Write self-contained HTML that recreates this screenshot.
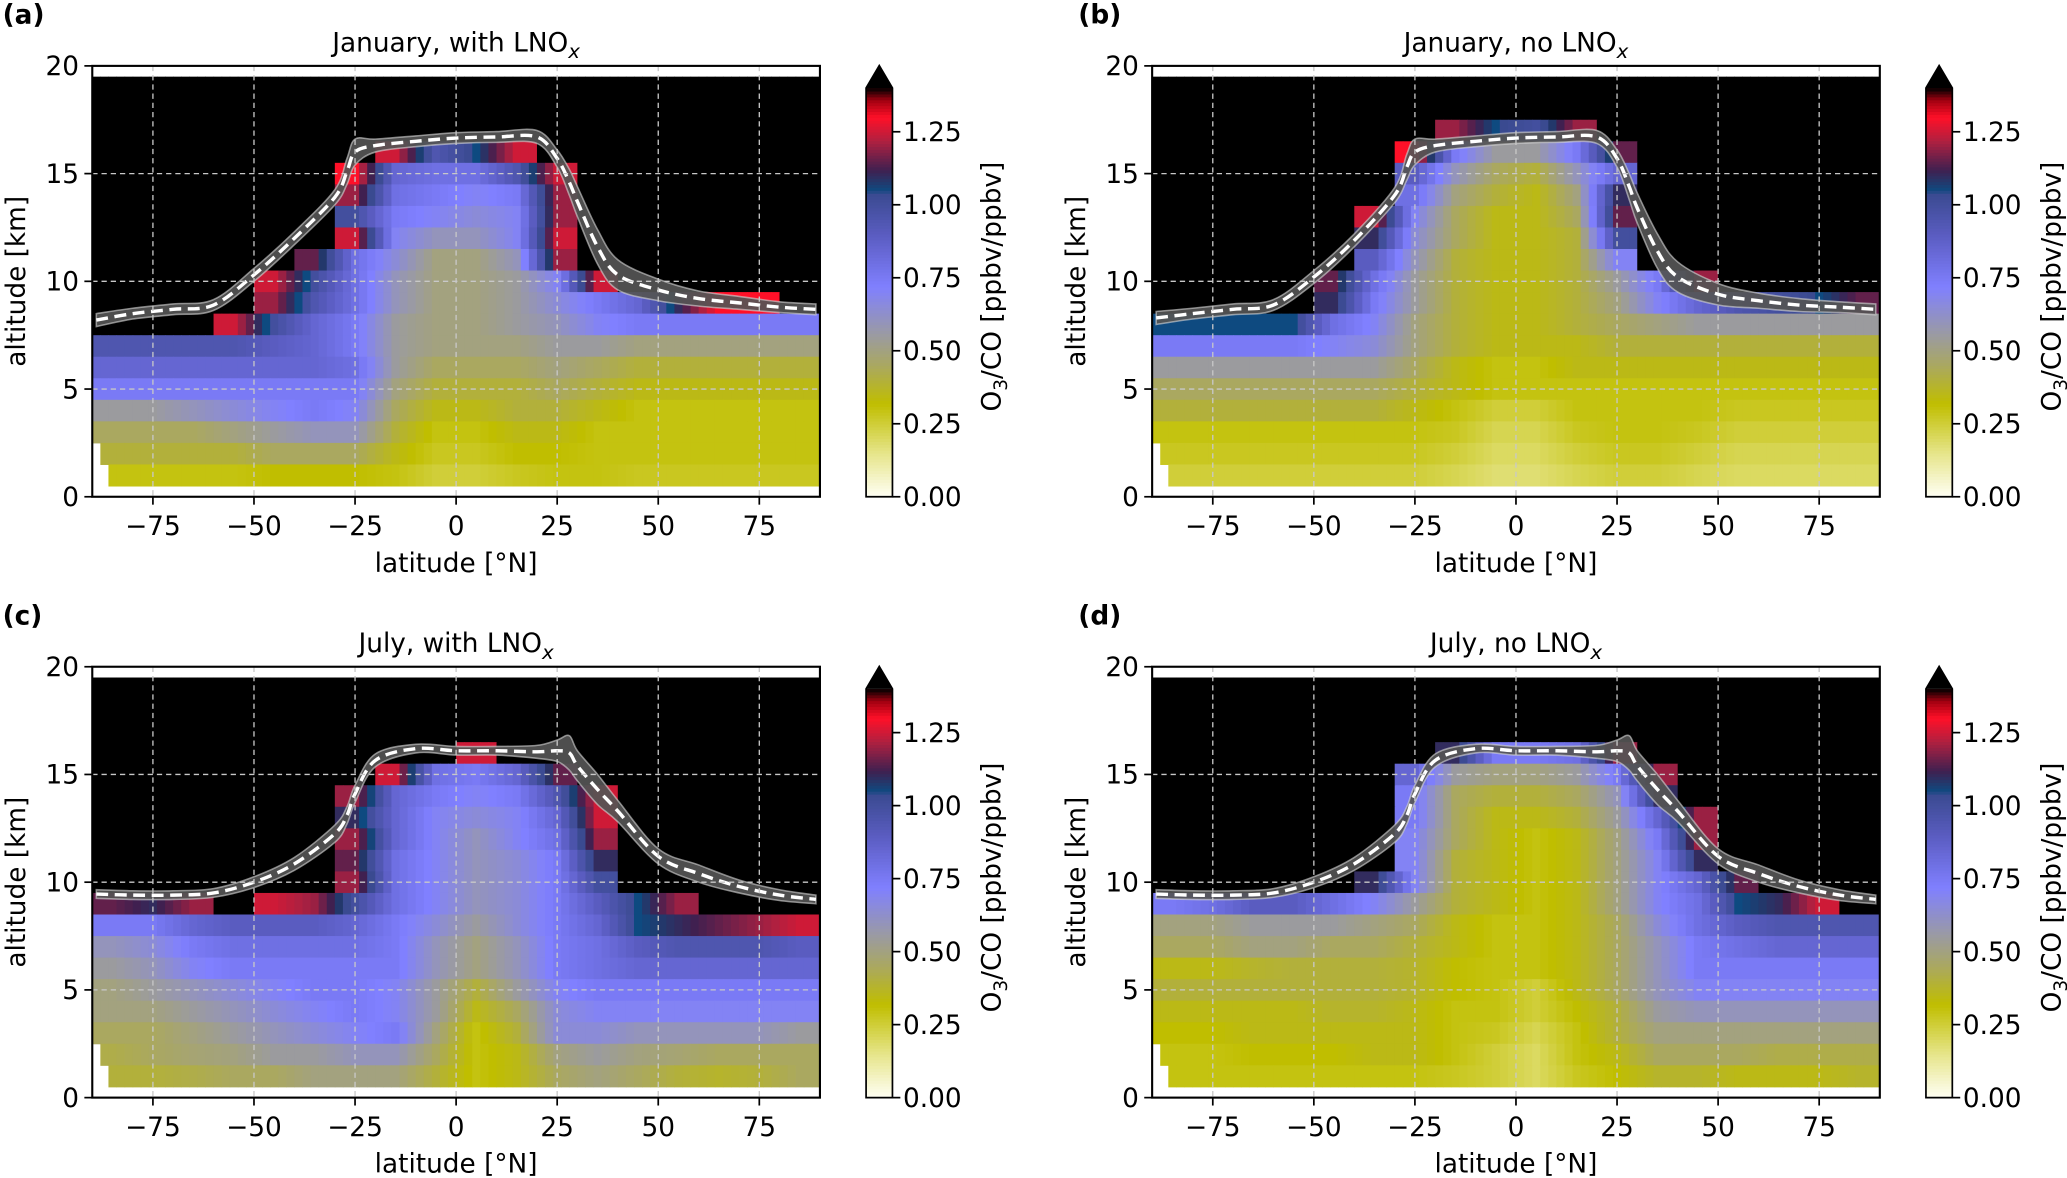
<!DOCTYPE html>
<html>
<head>
<meta charset="utf-8">
<style>
html,body{margin:0;padding:0;background:#fff;}
svg{display:block;font-family:"DejaVu Sans","Liberation Sans",sans-serif;}
</style>
</head>
<body>
<svg id="fig" width="2067" height="1178" viewBox="0 0 1568 894" preserveAspectRatio="none" xmlns="http://www.w3.org/2000/svg"></svg>
<script>
// ---------- data ----------
const cellLats = [-85,-75,-65,-55,-45,-35,-25,-15,-5,5,15,25,35,45,55,65,75,85];
const cellAlts = [19,18,17,16,15,14,13,12,11,10,9,8,7,6,5,4,3,2,1];

const janWith = [
[2,2,2,2,2,2,2,2,2,2,2,2,2,2,2,2,2,2],
[2,2,2,2,2,2,2,2,2,2,2,2,2,2,2,2,2,2],
[2,2,2,2,2,2,2,2,2,2,2,2,2,2,2,2,2,2],
[2,2,2,2,2,2,2,1.25,0.95,1.05,1.25,2,2,2,2,2,2,2],
[2,2,2,2,2,2,1.3,0.85,0.8,0.8,0.95,1.25,2,2,2,2,2,2],
[2,2,2,2,2,2,1.2,0.8,0.75,0.7,0.75,1.2,2,2,2,2,2,2],
[2,2,2,2,2,2,1.0,0.75,0.7,0.65,0.7,1.2,2,2,2,2,2,2],
[2,2,2,2,2,2,1.25,0.7,0.6,0.6,0.7,1.25,2,2,2,2,2,2],
[2,2,2,2,2,1.15,0.8,0.65,0.5,0.5,0.6,1.2,2,2,2,2,2,2],
[2,2,2,2,1.25,1.0,0.8,0.6,0.5,0.5,0.55,0.7,1.25,2,2,2,2,2],
[2,2,2,2,1.2,0.95,0.8,0.6,0.5,0.5,0.55,0.65,0.75,0.85,1.1,1.3,1.3,2],
[2,2,2,1.25,1.0,0.85,0.75,0.55,0.5,0.5,0.55,0.6,0.7,0.75,0.75,0.75,0.75,0.75],
[0.95,0.95,0.95,0.95,0.9,0.85,0.75,0.55,0.5,0.5,0.5,0.55,0.55,0.5,0.5,0.5,0.5,0.5],
[0.85,0.85,0.85,0.85,0.85,0.85,0.8,0.55,0.45,0.45,0.45,0.5,0.45,0.4,0.4,0.4,0.4,0.4],
[0.75,0.75,0.75,0.75,0.75,0.75,0.75,0.5,0.4,0.4,0.4,0.45,0.4,0.35,0.35,0.35,0.35,0.35],
[0.55,0.55,0.6,0.65,0.7,0.75,0.7,0.45,0.35,0.35,0.4,0.4,0.35,0.3,0.3,0.3,0.3,0.3],
[0.45,0.45,0.45,0.5,0.55,0.6,0.6,0.4,0.3,0.3,0.35,0.35,0.3,0.3,0.3,0.3,0.3,0.3],
[0.4,0.4,0.4,0.4,0.45,0.45,0.45,0.35,0.28,0.28,0.32,0.32,0.3,0.3,0.3,0.3,0.3,0.3],
[0.3,0.3,0.3,0.3,0.32,0.32,0.32,0.3,0.25,0.25,0.28,0.3,0.3,0.28,0.28,0.28,0.28,0.28]
];
const janNo = [
[2,2,2,2,2,2,2,2,2,2,2,2,2,2,2,2,2,2],
[2,2,2,2,2,2,2,2,2,2,2,2,2,2,2,2,2,2],
[2,2,2,2,2,2,2,1.2,1.05,1.0,1.2,2,2,2,2,2,2,2],
[2,2,2,2,2,2,1.3,0.75,0.55,0.55,0.75,1.15,2,2,2,2,2,2],
[2,2,2,2,2,2,0.9,0.6,0.45,0.4,0.6,0.85,2,2,2,2,2,2],
[2,2,2,2,2,2,0.8,0.5,0.4,0.35,0.5,1.1,2,2,2,2,2,2],
[2,2,2,2,2,1.25,0.7,0.45,0.35,0.35,0.45,1.15,2,2,2,2,2,2],
[2,2,2,2,2,1.1,0.65,0.45,0.35,0.35,0.4,1.0,2,2,2,2,2,2],
[2,2,2,2,2,0.9,0.6,0.4,0.35,0.35,0.4,0.7,2,2,2,2,2,2],
[2,2,2,2,1.15,0.8,0.55,0.4,0.35,0.35,0.4,0.55,0.75,1.2,2,2,2,2],
[2,2,2,2,1.1,0.75,0.55,0.4,0.35,0.35,0.4,0.5,0.7,0.85,0.95,1.0,1.05,1.15],
[1.05,1.05,1.05,1.05,0.8,0.7,0.5,0.4,0.35,0.35,0.4,0.45,0.5,0.55,0.55,0.55,0.55,0.55],
[0.75,0.75,0.75,0.75,0.7,0.65,0.5,0.4,0.35,0.35,0.35,0.4,0.4,0.4,0.4,0.4,0.4,0.4],
[0.55,0.55,0.55,0.55,0.55,0.55,0.45,0.35,0.3,0.3,0.35,0.35,0.35,0.35,0.35,0.35,0.35,0.35],
[0.45,0.45,0.45,0.45,0.45,0.45,0.4,0.35,0.3,0.3,0.3,0.3,0.3,0.3,0.3,0.3,0.3,0.3],
[0.4,0.4,0.4,0.4,0.4,0.4,0.35,0.3,0.25,0.25,0.3,0.3,0.3,0.3,0.28,0.28,0.28,0.28],
[0.3,0.3,0.3,0.3,0.3,0.3,0.3,0.28,0.22,0.22,0.28,0.3,0.3,0.28,0.25,0.25,0.25,0.25],
[0.28,0.28,0.28,0.28,0.28,0.28,0.28,0.25,0.2,0.2,0.25,0.28,0.28,0.25,0.22,0.22,0.22,0.22],
[0.25,0.25,0.25,0.25,0.25,0.25,0.25,0.22,0.18,0.18,0.22,0.25,0.25,0.22,0.2,0.2,0.2,0.2]
];
const julWith = [
[2,2,2,2,2,2,2,2,2,2,2,2,2,2,2,2,2,2],
[2,2,2,2,2,2,2,2,2,2,2,2,2,2,2,2,2,2],
[2,2,2,2,2,2,2,2,2,2,2,2,2,2,2,2,2,2],
[2,2,2,2,2,2,2,2,2,1.25,2,2,2,2,2,2,2,2],
[2,2,2,2,2,2,2,1.25,0.8,0.75,0.85,1.15,2,2,2,2,2,2],
[2,2,2,2,2,2,1.2,0.85,0.75,0.7,0.75,0.95,1.25,2,2,2,2,2],
[2,2,2,2,2,2,1.1,0.85,0.7,0.65,0.7,0.85,1.25,2,2,2,2,2],
[2,2,2,2,2,2,1.2,0.85,0.7,0.6,0.7,0.8,1.2,2,2,2,2,2],
[2,2,2,2,2,2,1.15,0.8,0.7,0.6,0.65,0.75,1.1,2,2,2,2,2],
[2,2,2,2,2,2,1.2,0.8,0.7,0.6,0.65,0.75,1.0,2,2,2,2,2],
[1.15,1.1,1.2,2,1.25,1.2,1.0,0.8,0.7,0.6,0.65,0.75,0.9,1.05,1.2,2,2,2],
[0.75,0.75,0.85,0.9,0.9,0.9,0.85,0.75,0.65,0.55,0.65,0.75,0.85,1.05,1.1,1.15,1.2,1.25],
[0.6,0.65,0.75,0.8,0.8,0.8,0.8,0.75,0.6,0.5,0.6,0.75,0.8,0.9,0.95,0.95,0.95,0.9],
[0.55,0.6,0.7,0.75,0.75,0.75,0.75,0.75,0.6,0.5,0.6,0.75,0.8,0.85,0.85,0.85,0.85,0.85],
[0.5,0.55,0.6,0.65,0.7,0.75,0.75,0.7,0.55,0.4,0.55,0.7,0.75,0.75,0.75,0.75,0.75,0.75],
[0.5,0.5,0.55,0.6,0.65,0.7,0.75,0.7,0.55,0.35,0.45,0.65,0.7,0.7,0.7,0.7,0.7,0.7],
[0.45,0.45,0.5,0.55,0.6,0.65,0.7,0.75,0.5,0.3,0.4,0.65,0.65,0.6,0.6,0.6,0.6,0.55],
[0.42,0.45,0.48,0.5,0.55,0.55,0.6,0.6,0.45,0.3,0.35,0.5,0.55,0.5,0.48,0.45,0.45,0.45],
[0.4,0.4,0.42,0.45,0.45,0.5,0.5,0.5,0.4,0.3,0.35,0.45,0.5,0.45,0.4,0.38,0.4,0.45]
];
const julNo = [
[2,2,2,2,2,2,2,2,2,2,2,2,2,2,2,2,2,2],
[2,2,2,2,2,2,2,2,2,2,2,2,2,2,2,2,2,2],
[2,2,2,2,2,2,2,2,2,2,2,2,2,2,2,2,2,2],
[2,2,2,2,2,2,2,1.1,0.75,0.75,0.8,1.2,2,2,2,2,2,2],
[2,2,2,2,2,2,0.85,0.55,0.5,0.5,0.55,0.75,1.2,2,2,2,2,2],
[2,2,2,2,2,2,0.75,0.45,0.4,0.4,0.45,0.6,1.1,2,2,2,2,2],
[2,2,2,2,2,2,0.75,0.45,0.35,0.35,0.4,0.55,0.85,1.2,2,2,2,2],
[2,2,2,2,2,2,0.7,0.45,0.35,0.3,0.35,0.5,0.75,1.2,2,2,2,2],
[2,2,2,2,2,2,0.7,0.4,0.35,0.3,0.35,0.5,0.7,1.1,2,2,2,2],
[2,2,2,2,2,1.1,0.7,0.4,0.35,0.3,0.35,0.5,0.7,0.85,1.15,2,2,2],
[0.75,0.8,0.9,0.9,0.8,0.7,0.55,0.4,0.35,0.3,0.35,0.5,0.7,0.8,1.05,1.1,1.25,2],
[0.5,0.5,0.55,0.55,0.55,0.5,0.45,0.35,0.3,0.3,0.35,0.45,0.65,0.8,0.9,0.95,0.95,0.95],
[0.45,0.45,0.5,0.5,0.45,0.45,0.4,0.35,0.3,0.3,0.35,0.45,0.6,0.75,0.8,0.85,0.85,0.85],
[0.35,0.35,0.38,0.4,0.4,0.4,0.38,0.32,0.3,0.3,0.35,0.45,0.6,0.75,0.75,0.75,0.75,0.75],
[0.4,0.4,0.4,0.4,0.4,0.4,0.38,0.32,0.3,0.25,0.35,0.45,0.6,0.7,0.7,0.7,0.7,0.7],
[0.35,0.35,0.35,0.35,0.38,0.38,0.35,0.3,0.3,0.25,0.32,0.4,0.55,0.6,0.6,0.6,0.6,0.6],
[0.32,0.32,0.35,0.35,0.35,0.35,0.35,0.3,0.28,0.22,0.3,0.4,0.5,0.5,0.5,0.5,0.5,0.5],
[0.3,0.3,0.32,0.32,0.32,0.35,0.35,0.3,0.25,0.2,0.3,0.35,0.45,0.45,0.45,0.42,0.42,0.42],
[0.3,0.3,0.3,0.3,0.3,0.3,0.3,0.28,0.25,0.2,0.28,0.32,0.38,0.38,0.35,0.35,0.35,0.38]
];

const tpLat = [-89,-80,-70,-60,-50,-40,-30,-27,-25,-20,-10,0,10,20,25,28,30,35,40,50,60,70,80,89];
const tpJanWith = [8.2,8.5,8.7,8.9,10.3,12.0,13.9,15.1,16.0,16.3,16.5,16.65,16.7,16.7,15.7,14.6,13.7,11.6,10.3,9.6,9.2,9.0,8.8,8.7];
const tpJanNo   = [8.3,8.5,8.7,8.9,10.2,11.9,14.0,15.3,16.0,16.3,16.5,16.65,16.7,16.7,15.7,14.4,13.4,11.4,10.2,9.4,9.1,8.9,8.8,8.7];
const tpJulWith = [9.45,9.4,9.4,9.5,10.0,10.85,12.25,13.1,14.1,15.65,16.2,16.1,16.1,16.05,16.1,16.0,15.4,14.3,13.3,11.2,10.4,9.8,9.4,9.2];
const tpJulNo   = [9.45,9.4,9.4,9.5,10.0,10.85,12.25,13.1,14.1,15.65,16.2,16.1,16.1,16.05,16.1,16.0,15.4,14.3,13.3,11.2,10.4,9.8,9.4,9.2];
const hwJan = [0.3,0.25,0.25,0.25,0.3,0.3,0.35,0.6,0.6,0.3,0.25,0.25,0.25,0.3,0.4,0.6,0.7,0.8,0.7,0.5,0.35,0.3,0.25,0.25];
const hwJul = [0.2,0.2,0.2,0.2,0.25,0.3,0.4,0.4,0.4,0.3,0.2,0.2,0.2,0.3,0.5,0.8,0.7,0.7,0.5,0.35,0.4,0.3,0.25,0.2];

const xTicks = [-75,-50,-25,0,25,50,75];
const yTicks = [0,5,10,15,20];
const cbTicks = [0,0.25,0.5,0.75,1.0,1.25];
const cbTickLabels = ["0.00","0.25","0.50","0.75","1.00","1.25"];

// ---------- colormap ----------
const stops = [[0,'#fffff5'],[0.15,'#e6e58a'],[0.32,'#c0be00'],[0.45,'#aaa860'],[0.56,'#9a9aa4'],[0.72,'#8080ff'],[0.9,'#5a5cc0'],[1.04,'#3a4a90'],[1.05,'#0e4a80'],[1.12,'#402050'],[1.22,'#b02040'],[1.3,'#ff1028'],[1.36,'#a00010'],[1.4,'#000000']];
function hex(c){return [parseInt(c.slice(1,3),16),parseInt(c.slice(3,5),16),parseInt(c.slice(5,7),16)];}
function cmap(v){
  if(v>=1.4) return '#000';
  if(v<=0) return stops[0][1];
  for(let i=1;i<stops.length;i++){
    if(v<=stops[i][0]){
      const a=hex(stops[i-1][1]),b=hex(stops[i][1]);
      const t=(v-stops[i-1][0])/(stops[i][0]-stops[i-1][0]);
      return 'rgb('+a.map((x,k)=>Math.round(x+(b[k]-x)*t)).join(',')+')';
    }
  }
  return '#000';
}

const NS='http://www.w3.org/2000/svg';
const svg=document.getElementById('fig');
function mk(tag,attrs,parent){const e=document.createElementNS(NS,tag);for(const k in attrs)e.setAttribute(k,attrs[k]);(parent||svg).appendChild(e);return e;}

function smoothPath(pts){
  let d='M'+pts[0][0]+','+pts[0][1];
  for(let i=0;i<pts.length-1;i++){
    const p0=pts[Math.max(0,i-1)],p1=pts[i],p2=pts[i+1],p3=pts[Math.min(pts.length-1,i+2)];
    const c1=[p1[0]+(p2[0]-p0[0])/6,p1[1]+(p2[1]-p0[1])/6];
    const c2=[p2[0]-(p3[0]-p1[0])/6,p2[1]-(p3[1]-p1[1])/6];
    d+=` C${c1[0]},${c1[1]} ${c2[0]},${c2[1]} ${p2[0]},${p2[1]}`;
  }
  return d;
}

function panel(opt){
  const W=552,H=327;
  const g=mk('g',{});
  
  
  const xs=lat=>opt.x0+(lat+90)*W/180;
  const ys=km=>opt.y0+H-km*H/20;
  const hm=mk('g',{},g);
  
  
  const SUB=5;
  opt.data.forEach((row,i)=>{
    const alt=cellAlts[i];
    row.forEach((v,j)=>{
      for(let s=0;s<SUB;s++){
        let l=cellLats[j]-5+10*s/SUB, r=l+10/SUB;
        const mid=(l+r)/2, off=mid-cellLats[j];
        let val=v;
        if(v<1.4){
          const nj=off<0?j-1:j+1;
          if(nj>=0&&nj<row.length&&row[nj]<1.4){
            val=v+(row[nj]-v)*Math.abs(off)/10;
          }
        }
        if(alt===1&&r<=-86) continue;
        if(alt===2&&r<=-88) continue;
        if(alt===1&&l<-86) l=-86;
        if(alt===2&&l<-88) l=-88;
        const c=mk('rect',{x:xs(l),y:ys(alt+0.5),width:xs(r)-xs(l)+0.4,height:ys(alt-0.5)-ys(alt+0.5)+0.4,fill:cmap(val)},hm);
        
        
      }
    });
  });
  const up=tpLat.map((la,i)=>[xs(la),ys(opt.tp[i]+opt.hw[i])]);
  const dn=tpLat.map((la,i)=>[xs(la),ys(opt.tp[i]-opt.hw[i])]).reverse();
  const dUp=smoothPath(up), dDn=smoothPath(dn).replace(/^M/,'L');
  const band=mk('path',{d:dUp+' '+dDn+' Z',fill:'#555','fill-opacity':0.92,stroke:'#d8d8d8','stroke-opacity':0.6,'stroke-width':1.2},g);
  
  
  const ln=mk('path',{d:smoothPath(tpLat.map((la,i)=>[xs(la),ys(opt.tp[i])])),fill:'none',stroke:'#fff','stroke-width':2.6,'stroke-dasharray':'9,5'},g);
  
  
  xTicks.forEach(t=>{const l=mk('line',{x1:xs(t),x2:xs(t),y1:opt.y0,y2:opt.y0+H,stroke:'#c8c8c8','stroke-width':1,'stroke-dasharray':'4,3'},g);});
  yTicks.forEach(t=>{if(t===0||t===20)return;const l=mk('line',{x1:opt.x0,x2:opt.x0+W,y1:ys(t),y2:ys(t),stroke:'#c8c8c8','stroke-width':1,'stroke-dasharray':'4,3'},g);});
  const fr=mk('rect',{x:opt.x0,y:opt.y0,width:W,height:H,fill:'none',stroke:'#000','stroke-width':1.6},g);
  
  
  xTicks.forEach(t=>{
    mk('line',{x1:xs(t),x2:xs(t),y1:opt.y0+H,y2:opt.y0+H+6,stroke:'#000','stroke-width':1.3},g);
    const tx=mk('text',{x:xs(t),y:opt.y0+H+29,'font-size':20,'text-anchor':'middle',fill:'#000'},g);
    tx.textContent=t<0?'\u2212'+(-t):String(t);
    
    
  });
  yTicks.forEach(t=>{
    mk('line',{x1:opt.x0-6,x2:opt.x0,y1:ys(t),y2:ys(t),stroke:'#000','stroke-width':1.3},g);
    const tx=mk('text',{x:opt.x0-10,y:ys(t)+7,'font-size':20,'text-anchor':'end',fill:'#000'},g);
    tx.textContent=String(t);
    
    
  });
  const xl=mk('text',{x:opt.x0+W/2,y:opt.y0+H+57,'font-size':20,'text-anchor':'middle'},g);
  xl.textContent='latitude [°N]';
  
  
  const yl=mk('text',{x:0,y:0,'font-size':20,'text-anchor':'middle',transform:`translate(${opt.x0-51},${opt.y0+H/2}) rotate(-90)`},g);
  yl.textContent='altitude [km]';
  
  
  const ti=mk('text',{x:opt.x0+W/2,y:opt.y0-11,'font-size':20,'text-anchor':'middle'},g);
  ti.innerHTML=opt.title+' LNO<tspan font-style="italic" font-size="15" dy="5">x</tspan>';
  
  
  const le=mk('text',{x:opt.lx,y:opt.y0-32,'font-size':20,'font-weight':'bold'},g);
  le.textContent=opt.letter;
  
  
  const cbX=opt.x0+W+35, cbW=20, cbB=opt.y0+H, per=(H-50)/1.25;
  const cb=mk('g',{},g);
  
  
  const N=140;
  for(let k=0;k<N;k++){
    const v0=1.4*k/N, v1=1.4*(k+1)/N;
    mk('rect',{x:cbX,y:cbB-v1*per,width:cbW,height:(v1-v0)*per+0.5,fill:cmap((v0+v1)/2)},cb);
  }
  const top=cbB-1.4*per;
  mk('polygon',{points:`${cbX},${top} ${cbX+cbW/2},${top-17} ${cbX+cbW},${top}`,fill:'#000'},cb);
  mk('polygon',{points:`${cbX},${cbB} ${cbX},${top} ${cbX+cbW/2},${top-17} ${cbX+cbW},${top} ${cbX+cbW},${cbB}`,fill:'none',stroke:'#000','stroke-width':1.3},cb);
  cbTicks.forEach((t,i)=>{
    mk('line',{x1:cbX+cbW,x2:cbX+cbW+6,y1:cbB-t*per,y2:cbB-t*per,stroke:'#000','stroke-width':1.3},cb);
    const tx=mk('text',{x:cbX+cbW+8,y:cbB-t*per+7,'font-size':20},cb);
    tx.textContent=cbTickLabels[i];
    
    
  });
  const cl=mk('text',{x:0,y:0,'font-size':20,'text-anchor':'middle',transform:`translate(${cbX+cbW+82},${opt.y0+H/2+4}) rotate(-90)`},cb);
  cl.innerHTML='O<tspan font-size="14" dy="5">3</tspan><tspan dy="-5">/CO [ppbv/ppbv]</tspan>';
  
  
}

panel({name:'panel-a',x0:70,y0:50,data:janWith,tp:tpJanWith,hw:hwJan,title:'January, with',letter:'(a)',lx:2});
panel({name:'panel-b',x0:874,y0:50,data:janNo,tp:tpJanNo,hw:hwJan,title:'January, no',letter:'(b)',lx:818});
panel({name:'panel-c',x0:70,y0:506,data:julWith,tp:tpJulWith,hw:hwJul,title:'July, with',letter:'(c)',lx:2});
panel({name:'panel-d',x0:874,y0:506,data:julNo,tp:tpJulNo,hw:hwJul,title:'July, no',letter:'(d)',lx:818});
</script>
</body>
</html>
